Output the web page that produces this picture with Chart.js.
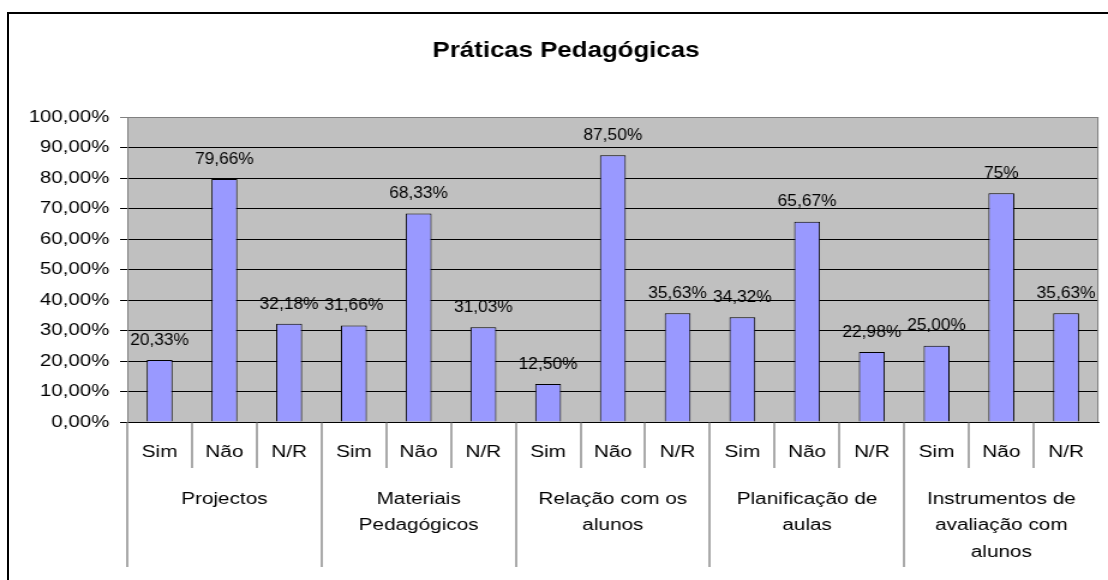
<!DOCTYPE html>
<html>
<head>
<meta charset="utf-8">
<script src="https://cdn.jsdelivr.net/npm/chart.js@4.4.0/dist/chart.umd.min.js"></script>
<style>
  html, body { margin: 0; padding: 0; background: #fff; overflow: hidden; }
  #wrap { position: relative; width: 1108px; height: 580px; overflow: hidden; }
  #frame { position: absolute; left: 7px; top: 12px; width: 1300px; height: 800px;
           border-left: 2px solid #000; border-top: 2px solid #000; }
  #chart { position: absolute; left: 0; top: 0; width: 1108px !important; height: 580px !important; }
</style>
</head>
<body>
<div id="wrap">
  <div id="frame"></div>
  <canvas id="chart" width="923" height="580" style="width:1108px;height:580px"></canvas>
</div>
<script>
// Práticas Pedagógicas - column chart, Excel look
const chartTitle = 'Práticas Pedagógicas';
const answers = ['Sim', 'Não', 'N/R'];
const groups = [
  ['Projectos'],
  ['Materiais', 'Pedagógicos'],
  ['Relação com os', 'alunos'],
  ['Planificação de', 'aulas'],
  ['Instrumentos de', 'avaliação com', 'alunos']
];
const values = [20.33, 79.66, 32.18, 31.66, 68.33, 31.03, 12.50, 87.50, 35.63, 34.32, 65.67, 22.98, 25.00, 75.00, 35.63];
const valueLabels = ['20,33%', '79,66%', '32,18%', '31,66%', '68,33%', '31,03%', '12,50%', '87,50%', '35,63%', '34,32%', '65,67%', '22,98%', '25,00%', '75%', '35,63%'];
const categories = groups.flatMap(() => answers);

// the original picture is stretched horizontally, so the canvas is too
const SX = 1108 / 923;
const FONT = '"Liberation Sans", Arial, sans-serif';

const excelLook = {
  id: 'excelLook',
  beforeDraw(chart){
    const {ctx, chartArea: a} = chart;
    ctx.save();
    ctx.fillStyle = '#C0C0C0';
    ctx.fillRect(a.left, a.top, a.right - a.left, a.bottom - a.top);
    ctx.restore();
  },
  afterDatasetsDraw(chart){
    const ctx = chart.ctx;
    const meta = chart.getDatasetMeta(0);
    ctx.save();
    ctx.font = '17px ' + FONT;
    ctx.fillStyle = '#000';
    ctx.textAlign = 'center';
    ctx.textBaseline = 'middle';
    // data labels are narrower than the axis text in the original
    meta.data.forEach((bar, i) => {
      ctx.save();
      ctx.translate(bar.x, bar.y - 20);
      ctx.scale(0.85, 1);
      ctx.fillText(valueLabels[i], 0, 0);
      ctx.restore();
    });
    ctx.restore();
  },
  afterDraw(chart){
    const ctx = chart.ctx;
    const xs = chart.scales.x;
    const a = chart.chartArea;
    ctx.save();
    // title
    ctx.font = 'bold 21.5px ' + FONT;
    ctx.fillStyle = '#000';
    ctx.textAlign = 'center';
    ctx.textBaseline = 'alphabetic';
    ctx.fillText(chartTitle, 566 / SX, 57);
    // right edge of plot area
    ctx.strokeStyle = '#808080';
    ctx.lineWidth = 1;
    ctx.beginPath();
    ctx.moveTo(a.right - 0.5, a.top);
    ctx.lineTo(a.right - 0.5, a.bottom);
    ctx.stroke();
    // category separators
    const slot = (xs.right - xs.left) / values.length;
    ctx.strokeStyle = '#555';
    ctx.beginPath();
    for (let k = 0; k < values.length; k++) {
      const x = Math.round(xs.left + k * slot);
      ctx.moveTo(x, a.bottom);
      ctx.lineTo(x, k % answers.length === 0 ? 567 : 468);
    }
    ctx.stroke();
    // group labels
    ctx.font = '17.3px ' + FONT;
    ctx.textBaseline = 'middle';
    groups.forEach((lines, g) => {
      const cx = (xs.getPixelForValue(g * 3) + xs.getPixelForValue(g * 3 + 2)) / 2;
      lines.forEach((t, i) => ctx.fillText(t, cx, 499 + i * 26.5));
    });
    ctx.restore();
  }
};

new Chart(document.getElementById('chart'), {
  type: 'bar',
  data: {
    labels: categories,
    datasets: [{
      data: values,
      backgroundColor: '#9999FF',
      borderColor: '#000',
      borderWidth: 1,
      barPercentage: 0.4,
      categoryPercentage: 1
    }]
  },
  options: {
    responsive: false,
    animation: false,
    devicePixelRatio: 1,
    layout: { padding: { left: 0, top: 117, right: 1, bottom: 0 } },
    plugins: { legend: { display: false }, title: { display: false }, tooltip: { enabled: false } },
    scales: {
      x: {
        grid: { display: false, drawTicks: false },
        border: { display: true, color: '#000', width: 1 },
        ticks: { color: '#000', font: { family: FONT, size: 17.3 }, padding: 20, maxRotation: 0, autoSkip: false },
        afterFit: s => { s.height = 158; }
      },
      y: {
        min: 0, max: 100,
        grid: {
          color: c => (c.tick && c.tick.value === 100) ? '#808080' : '#000',
          tickLength: 6
        },
        border: { display: true, color: '#808080', width: 1 },
        ticks: {
          stepSize: 10, color: '#000', padding: 9,
          font: { family: FONT, size: 17 },
          callback: v => v.toFixed(2).replace('.', ',') + '%'
        },
        afterFit: s => { s.width = Math.round(127 / SX); }
      }
    }
  },
  plugins: [excelLook]
});
</script>
</body>
</html>
